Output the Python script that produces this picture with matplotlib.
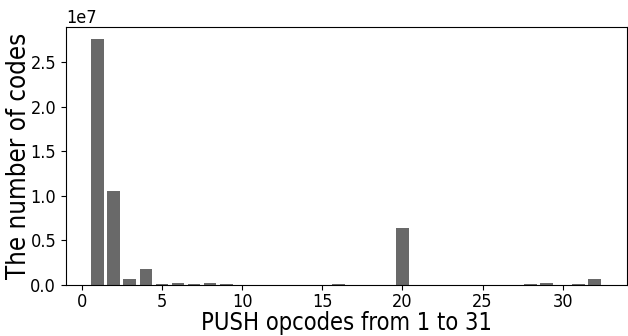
import matplotlib
matplotlib.use("Agg")
import matplotlib.pyplot as plt
import numpy as np

# PUSH1 .. PUSH32 occurrence counts
opcodes = np.arange(1, 33)
counts = [27550000, 10490000, 640000, 1800000, 100000, 200000, 100000, 200000,
          100000, 0, 0, 0, 0, 0, 0, 100000,
          0, 0, 0, 6360000, 0, 0, 0, 0,
          0, 0, 0, 100000, 250000, 0, 100000, 670000]

# reference text looks horizontally narrowed
plt.rcParams['font.family'] = 'DejaVu Sans'
plt.rcParams['font.stretch'] = 'condensed'

fig = plt.figure(figsize=(6.28, 3.36), dpi=100)
ax = fig.add_axes([0.105, 0.152, 0.893, 0.768])
ax.bar(opcodes, counts, color='dimgray')
ax.set_xlabel('PUSH opcodes from 1 to 31', fontsize=17, labelpad=0)
ax.set_ylabel('The number of codes', fontsize=18.5)
ax.yaxis.set_label_coords(-0.06, 0.5)
ax.tick_params(labelsize=13)
ax.tick_params(axis='x', pad=2.5)
ax.yaxis.get_offset_text().set_fontsize(13)
plt.savefig('out.png', dpi=100)
